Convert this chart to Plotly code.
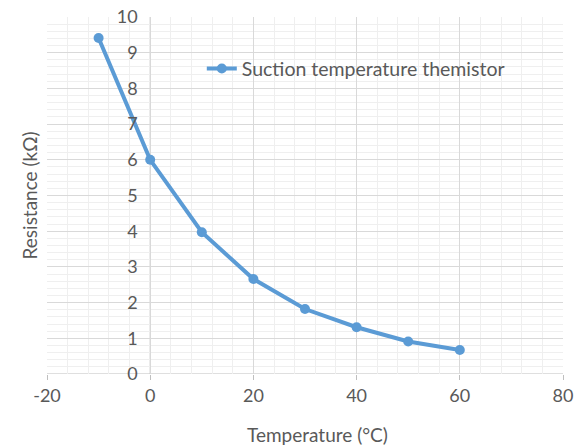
import plotly.graph_objects as go

# suction temperature thermistor: temperature (°C) vs resistance (kΩ)
temperature = [-10, 0, 10, 20, 30, 40, 50, 60]
resistance = [9.41, 6.0, 3.97, 2.66, 1.82, 1.31, 0.91, 0.67]
series_name = "Suction temperature themistor"

x_ticks = [-20, 0, 20, 40, 60, 80]
x_ticktext = ["-20", "0", "20", "40", "60", "80"]
y_ticks = [0, 1, 2, 3, 4, 5, 6, 7, 8, 9, 10]

x_range = [-20, 80]
y_range = [0, 10]

grey_text = "#595959"
font_family = "Lato, Open Sans, sans-serif"

# plot area in pixels
W, H = 578, 446
left, right, top, bottom = 47, 15, 17, 72

fig = go.Figure()
fig.add_trace(go.Scatter(
    x=temperature, y=resistance, mode="lines+markers", name=series_name,
    line=dict(color="#5B9BD5", width=4),
    marker=dict(color="#5B9BD5", size=10),
))

# y axis crosses the x axis at 0
y_cross = (0 - x_range[0]) / (x_range[1] - x_range[0])

fig.update_layout(
    width=W, height=H,
    margin=dict(l=left, r=right, t=top, b=bottom, autoexpand=False),
    paper_bgcolor="white", plot_bgcolor="white",
    font=dict(family=font_family, color=grey_text, size=17),
    showlegend=True,
    legend=dict(x=0.3, y=0.855, xanchor="left", yanchor="middle",
                bgcolor="rgba(0,0,0,0)", font=dict(size=19.5, color=grey_text)),
    xaxis=dict(
        range=x_range, tickvals=x_ticks, ticktext=x_ticktext,
        showgrid=True, gridcolor="#d9d9d9", gridwidth=1,
        minor=dict(dtick=4, tick0=-20, showgrid=True, gridcolor="#efefef", gridwidth=1),
        showline=False, zeroline=False, automargin=False,
        ticks="outside", ticklen=5, tickcolor="#bfbfbf",
        tickfont=dict(size=18, color=grey_text),
        title=dict(text=""),
    ),
    yaxis=dict(
        range=y_range, tickvals=y_ticks,
        showgrid=True, gridcolor="#d9d9d9", gridwidth=1,
        minor=dict(dtick=0.2, tick0=0, showgrid=True, gridcolor="#efefef", gridwidth=1),
        showline=False, zeroline=False, automargin=False,
        anchor="free", position=y_cross,
        ticks="outside", ticklen=9, tickcolor="rgba(0,0,0,0)",
        tickfont=dict(size=18, color=grey_text),
        title=dict(text=""),
    ),
    shapes=[
        dict(type="line", xref="x", yref="y", x0=x_range[0], x1=x_range[1], y0=0, y1=0,
             line=dict(color="#bfbfbf", width=1), layer="below"),
        dict(type="line", xref="x", yref="y", x0=0, x1=0, y0=y_range[0], y1=y_range[1],
             line=dict(color="#bfbfbf", width=1), layer="below"),
    ],
    annotations=[
        dict(text="Resistance (kΩ)", xref="paper", yref="paper", x=-0.033, y=0.5,
             textangle=-90, showarrow=False, xanchor="center", yanchor="middle",
             font=dict(size=19, color=grey_text)),
        dict(text="Temperature (°C)", xref="paper", yref="paper", x=0.525, y=-0.17,
             showarrow=False, xanchor="center", yanchor="middle",
             font=dict(size=19, color=grey_text)),
    ],
)

# drop the default page margin so the figure sits at the window's top-left corner
fig.write_html("out.html", config={"displayModeBar": False},
               post_script="document.body.style.margin='0';")
